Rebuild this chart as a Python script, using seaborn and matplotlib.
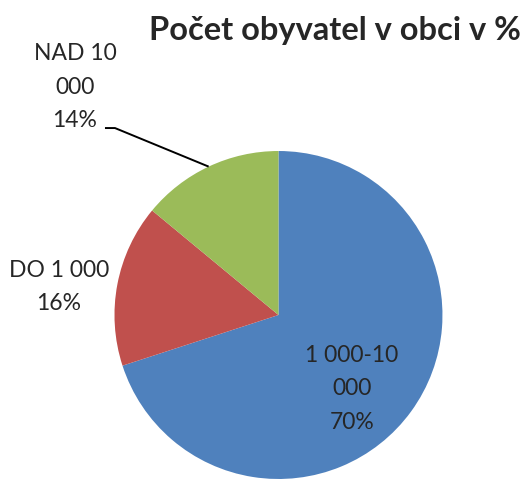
import numpy as np
import matplotlib
matplotlib.use("Agg")
import matplotlib.pyplot as plt
import seaborn as sns

# data
kategorie = ["1 000-10\n000", "DO 1 000", "NAD 10\n000"]
podily = [70, 16, 14]
barvy = ["#4F81BD", "#C0504D", "#9BBB59"]
titulek = "Počet obyvatel v obci v %"

sns.set_style("white")
plt.rcParams["font.family"] = ["Lato", "DejaVu Sans"]

fig = plt.figure(figsize=(5.32, 4.8), dpi=100)
ax = fig.add_axes([0.2152, 0.0021, 0.6165, 0.6833])

wedges, _ = ax.pie(podily, colors=barvy, startangle=90, counterclock=False,
                   radius=1.0, wedgeprops=dict(linewidth=0))
ax.set_xlim(-1, 1)
ax.set_ylim(-1, 1)
ax.set_aspect("auto")
ax.axis("off")

# popisky
txt = [f"{k}\n{p}%" for k, p in zip(kategorie, podily)]
opts = dict(ha="center", va="center", fontsize=16.5, linespacing=1.75)
ax.text(0.448, -0.451, txt[0], **opts)
ax.text(-1.338, 0.171, txt[1], **opts)
ax.text(-1.241, 1.39, txt[2], **opts)

# vodici cara k zelene vysece
w = wedges[2]
mid = np.deg2rad((w.theta1 + w.theta2) / 2)
ex, ey = np.cos(mid), np.sin(mid)
ax.plot([-1.058, -0.997, ex], [1.14, 1.14, ey], color="black", lw=1.4,
        clip_on=False, solid_capstyle="butt")

fig.text(0.63, 0.936, titulek, ha="center", va="center", fontsize=23.5, fontweight="bold")

fig.savefig("out.png", dpi=100)
